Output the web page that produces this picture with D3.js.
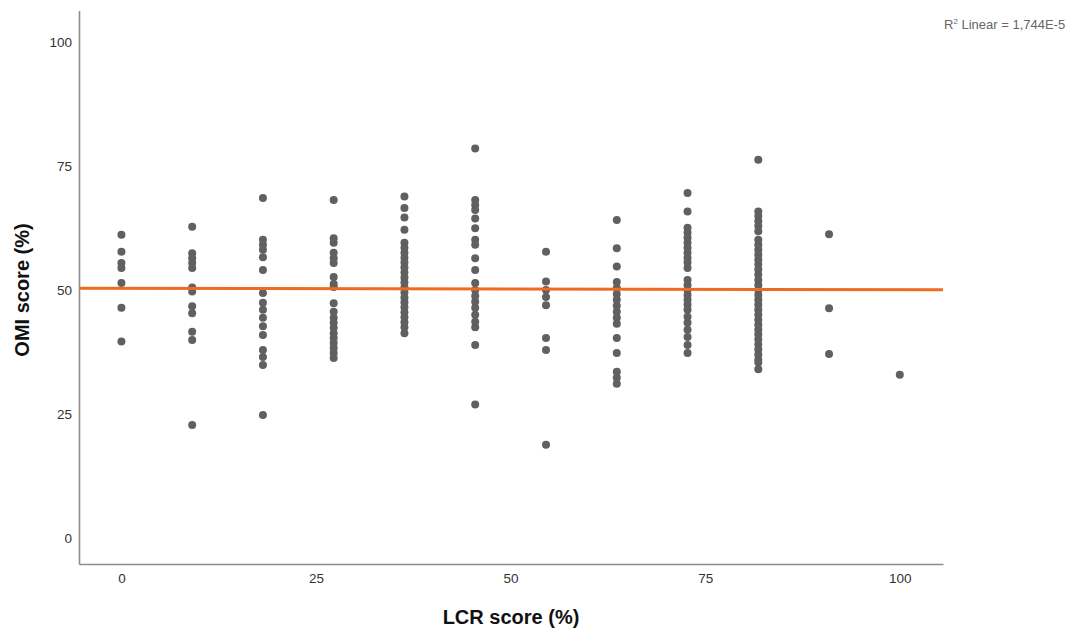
<!DOCTYPE html>
<html>
<head>
<meta charset="utf-8">
<script src="https://cdn.jsdelivr.net/npm/d3@7/dist/d3.min.js"></script>
<style>
  html, body { margin: 0; padding: 0; background: #ffffff; }
  svg { display: block; font-family: "Liberation Sans", Arial, sans-serif; }
</style>
</head>
<body>
<svg id="chart" width="1078" height="630"></svg>
<script>
// LCR score levels (x positions of the point columns)
const lcrLevels = [0, 9.09, 18.18, 27.27, 36.36, 45.45, 54.55, 63.64, 72.73, 81.82, 90.91, 100];

// OMI scores observed at each LCR level, same order as lcrLevels
const omiScores = [
  [61.1, 57.7, 55.4, 54.4, 51.4, 46.4, 39.6],
  [62.7, 57.4, 56.4, 55.4, 54.4, 50.5, 49.7, 46.7, 45.3, 41.6, 39.9, 22.8],
  [68.5, 60.1, 59.1, 58.1, 56.6, 54.0, 49.4, 47.4, 46.0, 44.4, 42.7, 40.9, 37.9, 36.5, 34.9, 24.8],
  [68.1, 60.4, 59.5, 57.5, 56.4, 55.4, 52.6, 51.2, 50.6, 47.3, 45.6, 44.4, 43.4, 42.4, 41.3, 40.3, 39.3, 38.3, 37.3, 36.3],
  [68.8, 66.5, 64.6, 62.1, 59.5, 58.5, 57.5, 56.5, 55.5, 54.5, 53.5, 52.5, 51.5, 50.5, 49.5, 48.5, 47.5, 46.5, 45.5, 44.5, 43.5, 42.5, 41.3],
  [78.5, 68.1, 67.1, 66.1, 64.4, 62.4, 60.1, 59.1, 56.4, 54.0, 51.4, 50.0, 48.8, 47.6, 46.4, 45.0, 43.6, 42.5, 38.9, 26.9],
  [57.7, 51.7, 50.0, 48.6, 46.9, 40.3, 37.9, 18.8],
  [64.1, 58.4, 54.7, 51.6, 50.4, 49.2, 48.0, 46.8, 45.6, 44.4, 43.2, 40.3, 37.3, 33.5, 32.3, 31.1],
  [69.5, 65.8, 62.5, 61.5, 60.5, 59.5, 58.5, 57.5, 56.5, 55.5, 54.4, 52.0, 51.0, 50.0, 49.0, 48.0, 47.0, 46.0, 44.6, 43.4, 42.0, 40.5, 38.9, 37.3],
  [76.2, 65.8, 64.9, 63.9, 62.9, 61.8, 60.1, 59.1, 58.1, 57.1, 56.1, 55.1, 54.1, 53.1, 52.0, 51.0, 50.0, 49.0, 48.0, 47.0, 46.0, 45.0, 44.0, 43.0, 42.0, 41.0, 40.0, 39.0, 38.0, 37.0, 36.0, 35.4, 34.0],
  [61.2, 46.3, 37.1],
  [32.9]
];

// Axis ticks
const xTicks = [0, 25, 50, 75, 100];
const yTicks = [0, 25, 50, 75, 100];

// Linear fit line (intercept, slope) and its annotation
const fitIntercept = 50.33;
const fitSlope = -0.0027;
const fitLabel = "1,744E-5";

// Flatten the columns into points
const points = [];
lcrLevels.forEach((lcr, i) => omiScores[i].forEach(omi => points.push({ lcr, omi })));

const svg = d3.select("#chart");

const xDomain = [-5.45, 105.55];
const x = d3.scaleLinear().domain(xDomain).range([79, 943]);
const y = d3.scaleLinear().domain([-5.2, 106.3]).range([564, 10.4]);

const axisColor = "#8c8c8c";
const labelColor = "#333333";

// Y axis
const gy = svg.append("g")
  .attr("transform", `translate(${x(xDomain[0])},0)`)
  .call(d3.axisLeft(y).tickValues(yTicks).tickSize(0).tickPadding(7).tickFormat(d3.format("d")));
gy.select(".domain").attr("stroke", axisColor).attr("stroke-width", 1.6);
gy.selectAll("text").attr("fill", labelColor).style("font-size", "13.5px");

// X axis
const gx = svg.append("g")
  .attr("transform", `translate(0,${y(-5.2)})`)
  .call(d3.axisBottom(x).tickValues(xTicks).tickSize(0).tickPadding(9).tickFormat(d3.format("d")));
gx.select(".domain").attr("stroke", axisColor).attr("stroke-width", 1.6);
gx.selectAll("text").attr("fill", labelColor).style("font-size", "13.5px");

// Axis titles
svg.append("text")
  .attr("x", 511).attr("y", 624)
  .attr("text-anchor", "middle")
  .style("font-size", "20px").style("font-weight", "bold")
  .attr("fill", "#111")
  .text("LCR score (%)");

svg.append("text")
  .attr("transform", "translate(29,290) rotate(-90)")
  .attr("text-anchor", "middle")
  .style("font-size", "20px").style("font-weight", "bold")
  .attr("fill", "#111")
  .text("OMI score (%)");

// Points
svg.append("g").selectAll("circle")
  .data(points)
  .join("circle")
  .attr("cx", d => x(d.lcr))
  .attr("cy", d => y(d.omi))
  .attr("r", 4)
  .attr("fill", "#606060");

// Fit line across the full x range
svg.append("line")
  .attr("x1", x(xDomain[0])).attr("y1", y(fitIntercept + fitSlope * xDomain[0]))
  .attr("x2", x(xDomain[1])).attr("y2", y(fitIntercept + fitSlope * xDomain[1]))
  .attr("stroke", "#ef6a22")
  .attr("stroke-width", 3);

// R² annotation
const ann = svg.append("text")
  .attr("x", 944).attr("y", 29)
  .style("font-size", "13px")
  .attr("fill", "#666");
ann.append("tspan").text("R");
ann.append("tspan").attr("dy", -5).style("font-size", "8px").text("2");
ann.append("tspan").attr("dy", 5).text(" Linear = " + fitLabel);
</script>
</body>
</html>
